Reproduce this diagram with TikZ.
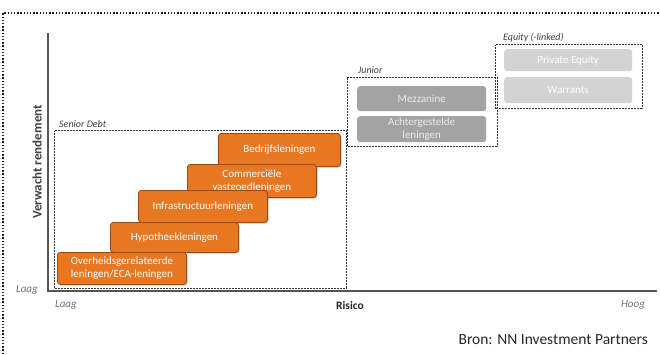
\documentclass[tikz,border=0pt]{standalone}
\usepackage{fontspec}
\setmainfont{Carlito}
\usetikzlibrary{shadows}
\definecolor{orng}{HTML}{E87722}
\definecolor{orngd}{HTML}{9A4A10}
\definecolor{midgray}{HTML}{A3A3A3}
\definecolor{ltgray}{HTML}{D3D3D3}
\definecolor{axisgray}{HTML}{555555}
\begin{document}
\begin{tikzpicture}[x=1pt,y=-1pt,
  boxfont/.style={font=\fontsize{11}{13}\selectfont},
  orangebox/.style={boxfont, draw=orngd, line width=0.8pt, fill=orng, rounded corners=3pt, text=white, align=center, inner sep=0pt, drop shadow={shadow xshift=1.2pt, shadow yshift=-1.2pt, opacity=0.5}},
  graybox/.style={boxfont, fill=midgray, rounded corners=3pt, text=black!8, align=center, inner sep=0pt},
  lightbox/.style={boxfont, fill=ltgray, rounded corners=3pt, text=white, align=center, inner sep=0pt},
  groupbox/.style={draw=black!80, line width=1.3pt, dash pattern=on 0.7pt off 0.8pt},
  grouplabel/.style={font=\itshape\fontsize{10}{11}\selectfont, text=black!75, anchor=base west, inner sep=0pt},
  axislabel/.style={font=\itshape\fontsize{11}{12}\selectfont, text=black!55, inner sep=0pt},
  frame/.style={draw=black!90, line width=1.8pt, dash pattern=on 1.4pt off 1.8pt}
]
\useasboundingbox (0,0) rectangle (660,354);
% outer dotted frame
\coordinate (ftl) at (3,13);
\coordinate (ftr) at (660,13);
\coordinate (fbl) at (3,354);
\draw[frame] (fbl) -- (ftl) -- (ftr);
% axes
\coordinate (origin) at (48,291);
\coordinate (ytop) at (48,33);
\coordinate (xend) at (657,291);
\draw[axisgray, line width=2.5pt] (ytop) -- (origin) -- (xend);
\node[rotate=90, font=\bfseries\fontsize{13}{14}\selectfont, text=black!75] (ylab) at (37,162) {Verwacht rendement};
\node[axislabel] (laagy) at (27,290) {Laag};
\node[axislabel] (laagx) at (66,305) {Laag};
\node[font=\bfseries\fontsize{11.5}{12}\selectfont, text=black!85, inner sep=0pt] (risico) at (350,305) {Risico};
\node[axislabel] (hoog) at (633,305) {Hoog};
\node[font=\fontsize{15.5}{16}\selectfont, text=black!85, anchor=east, inner sep=0pt] (bron) at (648,340) {Bron: NN Investment Partners};
% group boxes
\node[groupbox, minimum width=292pt, minimum height=158pt, anchor=north west, inner sep=0pt] (senior) at (54,130) {};
\node[grouplabel] (seniorlab) at (59,127) {Senior Debt};
\node[groupbox, minimum width=150pt, minimum height=69pt, anchor=north west, inner sep=0pt] (junior) at (347,77) {};
\node[grouplabel] (juniorlab) at (358,73) {Junior};
\node[groupbox, minimum width=147pt, minimum height=64pt, anchor=north west, inner sep=0pt] (equity) at (495,44) {};
\node[grouplabel] (equitylab) at (503,40.5) {Equity (-linked)};
% orange boxes
\node[orangebox, minimum width=122pt, minimum height=33pt, anchor=north west] (bedrijf) at (218,133) {Bedrijfsleningen};
\node[orangebox, minimum width=129pt, minimum height=33pt, anchor=north west] (commerc) at (187,164) {Commerciële\\vastgoedleningen};
\node[orangebox, minimum width=129pt, minimum height=32pt, anchor=north west] (infra) at (138,190) {Infrastructuurleningen};
\node[orangebox, minimum width=128pt, minimum height=30pt, anchor=north west] (hypo) at (110,222) {Hypotheekleningen};
\node[orangebox, minimum width=129pt, minimum height=32pt, anchor=north west] (overheid) at (57,252) {Overheidsgerelateerde\\leningen/ECA-leningen};
% gray boxes
\node[graybox, minimum width=129pt, minimum height=25pt, anchor=north west] (mezz) at (357,86) {Mezzanine};
\node[graybox, minimum width=129pt, minimum height=26pt, anchor=north west] (achter) at (357,116) {Achtergestelde\\leningen};
\node[lightbox, minimum width=128pt, minimum height=22pt, anchor=north west] (pe) at (504,49) {Private Equity};
\node[lightbox, minimum width=128pt, minimum height=26pt, anchor=north west] (warr) at (504,77) {Warrants};
\end{tikzpicture}
\end{document}
